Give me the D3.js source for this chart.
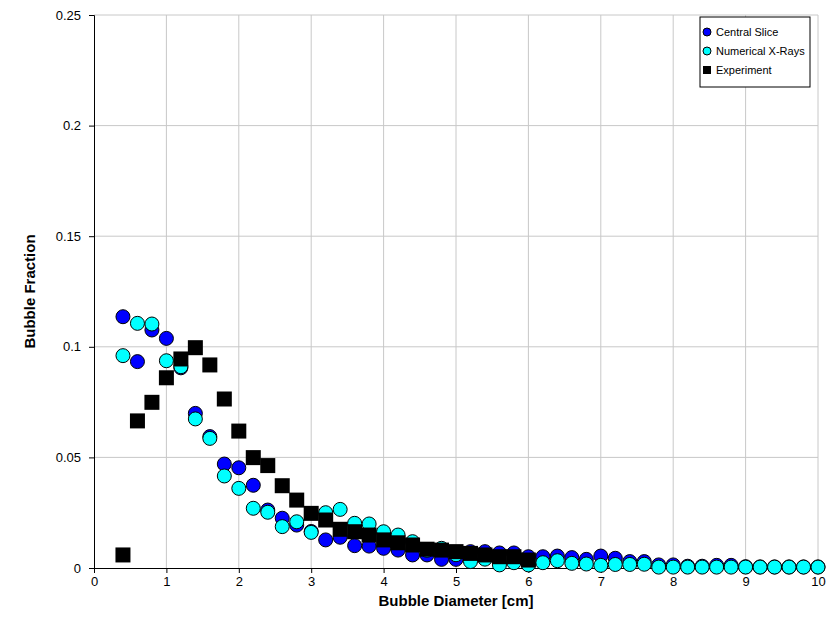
<!DOCTYPE html>
<html>
<head>
<meta charset="utf-8">
<script src="https://cdn.jsdelivr.net/npm/d3@7"></script>
<style>
  body { margin: 0; background: #fff; }
  text { font-family: "Liberation Sans", Arial, sans-serif; }
</style>
</head>
<body>
<div id="chart"></div>
<script>
// bubble diameter (cm) for the simulated series
var diam = [0.4, 0.6, 0.8, 1.0, 1.2, 1.4, 1.6, 1.8, 2.0, 2.2, 2.4, 2.6, 2.8, 3.0, 3.2, 3.4, 3.6, 3.8, 4.0,
  4.2, 4.4, 4.6, 4.8, 5.0, 5.2, 5.4, 5.6, 5.8, 6.0, 6.2, 6.4, 6.6, 6.8, 7.0, 7.2, 7.4, 7.6, 7.8, 8.0,
  8.2, 8.4, 8.6, 8.8, 9.0, 9.2, 9.4, 9.6, 9.8, 10.0];
var centralSlice = [0.1136, 0.0933, 0.1076, 0.1038, 0.0905, 0.0699, 0.0594, 0.0470, 0.0453, 0.0374,
  0.0262, 0.0225, 0.0194, 0.0165, 0.0127, 0.0139, 0.0101, 0.0099, 0.0089, 0.0081, 0.0059, 0.0059,
  0.0039, 0.0039, 0.0074, 0.0074, 0.0068, 0.0068, 0.0051, 0.0051, 0.0054, 0.0047, 0.0039, 0.0054,
  0.0044, 0.0029, 0.0029, 0.0014, 0.0014, 0.0008, 0.0008, 0.0012, 0.0012, 0.0006, 0.0005, 0.0005,
  0.0005, 0.0005, 0.0005];
var xRays = [0.0960, 0.1106, 0.1103, 0.0937, 0.0910, 0.0674, 0.0586, 0.0416, 0.0360, 0.0270,
  0.0252, 0.0187, 0.0209, 0.0161, 0.0250, 0.0265, 0.0202, 0.0199, 0.0164, 0.0149, 0.0119, 0.0080,
  0.0089, 0.0060, 0.0029, 0.0040, 0.0014, 0.0024, 0.0014, 0.0024, 0.0033, 0.0021, 0.0018, 0.0012,
  0.0016, 0.0016, 0.0017, 0.0004, 0.0004, 0.0004, 0.0004, 0.0004, 0.0004, 0.0004, 0.0004, 0.0004,
  0.0004, 0.0004, 0.0004];
// experiment only goes to 6 cm
var expDiam = [0.4, 0.6, 0.8, 1.0, 1.2, 1.4, 1.6, 1.8, 2.0, 2.2, 2.4, 2.6, 2.8, 3.0, 3.2, 3.4, 3.6,
  3.8, 4.0, 4.2, 4.4, 4.6, 4.8, 5.0, 5.2, 5.4, 5.6, 5.8, 6.0];
var experiment = [0.0059, 0.0665, 0.0749, 0.0860, 0.0945, 0.0996, 0.0918, 0.0764, 0.0619, 0.0499,
  0.0463, 0.0372, 0.0307, 0.0247, 0.0217, 0.0175, 0.0164, 0.0149, 0.0127, 0.0114, 0.0104, 0.0085,
  0.0081, 0.0074, 0.0066, 0.0059, 0.0051, 0.0051, 0.0036];
var xTicks = [0, 1, 2, 3, 4, 5, 6, 7, 8, 9, 10];
var yTicks = [0, 0.05, 0.1, 0.15, 0.2, 0.25];
var legendNames = ["Central Slice", "Numerical X-Rays", "Experiment"];

var width = 832, height = 637;
var margin = { top: 15, right: 14, bottom: 69, left: 94 };

var svg = d3.select("#chart").append("svg")
  .attr("width", width)
  .attr("height", height);

var x = d3.scaleLinear().domain([0, 10]).range([margin.left, width - margin.right]);
var y = d3.scaleLinear().domain([0, 0.25]).range([height - margin.bottom, margin.top]);

// grid
svg.append("g").selectAll("line.v")
  .data(xTicks.slice(1))
  .join("line")
  .attr("x1", d => x(d)).attr("x2", d => x(d))
  .attr("y1", y(0)).attr("y2", y(0.25))
  .attr("stroke", "#c8c8c8").attr("stroke-width", 1);
svg.append("g").selectAll("line.h")
  .data(yTicks.slice(1))
  .join("line")
  .attr("x1", x(0)).attr("x2", x(10))
  .attr("y1", d => y(d)).attr("y2", d => y(d))
  .attr("stroke", "#c8c8c8").attr("stroke-width", 1);

// axes
var xAxis = svg.append("g")
  .attr("transform", "translate(0," + y(0) + ")")
  .call(d3.axisBottom(x).tickValues(xTicks).tickFormat(d3.format("d")).tickSize(5).tickPadding(4));
var yAxis = svg.append("g")
  .attr("transform", "translate(" + x(0) + ",0)")
  .call(d3.axisLeft(y).tickValues(yTicks).tickFormat(d => d === 0 ? "0" : String(d)).tickSize(5).tickPadding(8));
[xAxis, yAxis].forEach(function (a) {
  a.select(".domain").attr("stroke", "#000");
  a.selectAll(".tick line").attr("stroke", "#000");
  a.selectAll(".tick text").attr("font-size", 13).attr("fill", "#000")
    .style("font-family", "'Liberation Sans', Arial, sans-serif");
});

// axis titles
svg.append("text")
  .attr("x", (x(0) + x(10)) / 2).attr("y", 606)
  .attr("text-anchor", "middle")
  .attr("font-size", 15).attr("font-weight", "bold")
  .text("Bubble Diameter [cm]");
svg.append("text")
  .attr("transform", "translate(35," + (y(0) + y(0.25)) / 2 + ") rotate(-90)")
  .attr("text-anchor", "middle")
  .attr("font-size", 15).attr("font-weight", "bold")
  .text("Bubble Fraction");

// markers, drawn in series order
var r = 7;
svg.append("g").selectAll("circle")
  .data(diam.map((d, i) => [d, centralSlice[i]]))
  .join("circle")
  .attr("cx", d => x(d[0])).attr("cy", d => y(d[1])).attr("r", r)
  .attr("fill", "#0000ff").attr("stroke", "#000").attr("stroke-width", 1);
svg.append("g").selectAll("circle")
  .data(diam.map((d, i) => [d, xRays[i]]))
  .join("circle")
  .attr("cx", d => x(d[0])).attr("cy", d => y(d[1])).attr("r", r)
  .attr("fill", "#00ffff").attr("stroke", "#000").attr("stroke-width", 1);
var sq = 15;
svg.append("g").selectAll("rect")
  .data(expDiam.map((d, i) => [d, experiment[i]]))
  .join("rect")
  .attr("x", d => x(d[0]) - sq / 2).attr("y", d => y(d[1]) - sq / 2)
  .attr("width", sq).attr("height", sq)
  .attr("fill", "#000");

// legend
var lg = svg.append("g").attr("transform", "translate(700,17)");
lg.append("rect")
  .attr("width", 110).attr("height", 70)
  .attr("fill", "#fff").attr("stroke", "#000").attr("stroke-width", 1);
legendNames.forEach(function (name, i) {
  var cy = 15 + i * 19;
  if (i < 2) {
    lg.append("circle").attr("cx", 7).attr("cy", cy).attr("r", 4)
      .attr("fill", i === 0 ? "#0000ff" : "#00ffff").attr("stroke", "#000");
  } else {
    lg.append("rect").attr("x", 3).attr("y", cy - 4).attr("width", 8).attr("height", 8).attr("fill", "#000");
  }
  lg.append("text").attr("x", 16).attr("y", cy + 4)
    .attr("font-size", 11).text(name);
});
</script>
</body>
</html>
